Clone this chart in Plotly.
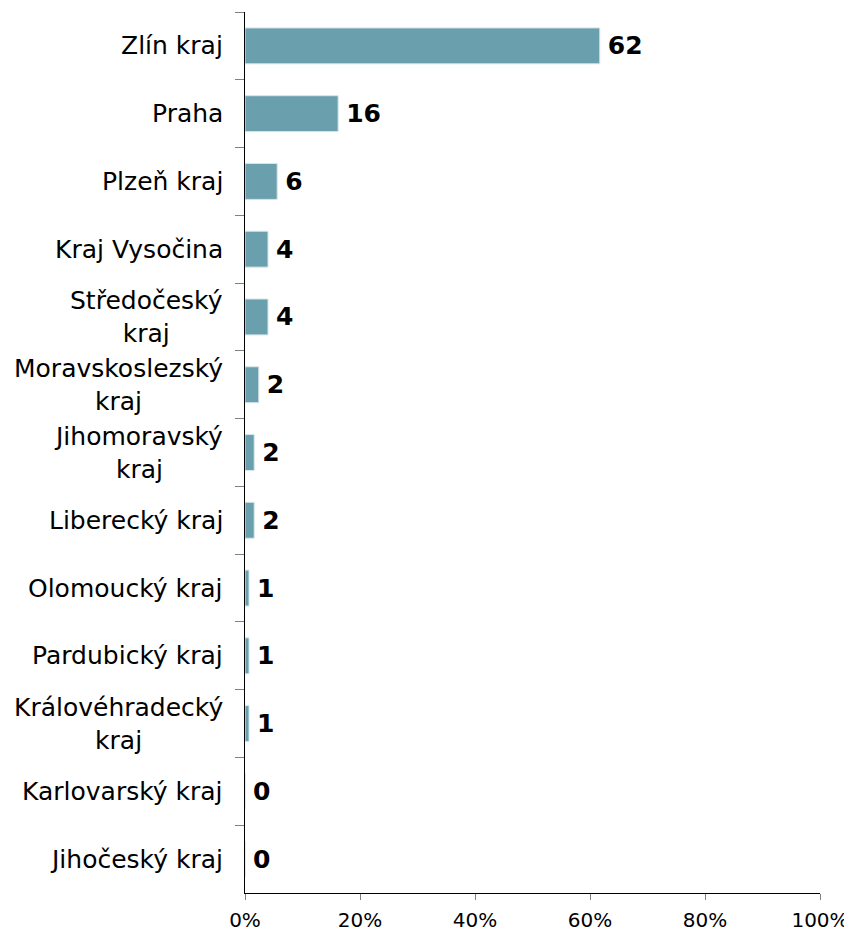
import plotly.graph_objects as go

# regions, top to bottom as shown
regions = ["Zlín kraj", "Praha", "Plzeň kraj", "Kraj Vysočina", "Středočeský<br>kraj",
           "Moravskoslezský<br>kraj", "Jihomoravský<br>kraj", "Liberecký kraj",
           "Olomoucký kraj", "Pardubický kraj", "Královéhradecký<br>kraj",
           "Karlovarský kraj", "Jihočeský kraj"]
# share of respondents in %
share = [61.7, 16.2, 5.6, 4.0, 4.0, 2.4, 1.6, 1.6, 0.7, 0.7, 0.7, 0, 0]
# labels printed next to the bars
labels = ["62", "16", "6", "4", "4", "2", "2", "2", "1", "1", "1", "0", "0"]

font = "Verdana, DejaVu Sans, sans-serif"

fig = go.Figure()
fig.add_trace(go.Bar(
    x=share, y=regions, orientation="h",
    marker_color="#6A9FAE", marker_line=dict(color="#d7e6ea", width=1),
    width=0.53,
    text=labels, texttemplate="\u2009%{text}", textposition="outside", cliponaxis=False,
    textfont=dict(family=font, size=25, color="black", weight="bold"),
))

# page body has an 8px margin, so margins are shifted accordingly
fig.update_layout(
    width=852, height=932, plot_bgcolor="white", paper_bgcolor="white",
    margin=dict(l=237, r=40, t=4, b=47), showlegend=False,
    font=dict(family=font, color="black"),
)
fig.update_xaxes(range=[0, 100], tickvals=[0, 20, 40, 60, 80, 100],
                 ticktext=["0%", "20%", "40%", "60%", "80%", "100%"],
                 showgrid=False, zeroline=False, showline=True, linecolor="black", linewidth=1,
                 ticks="outside", ticklen=6, tickcolor="#808080", ticklabelstandoff=3,
                 tickfont=dict(size=20, family=font))
fig.update_yaxes(autorange="reversed", showticklabels=False, showgrid=False,
                 showline=True, linecolor="black", linewidth=1,
                 ticks="outside", ticklen=9, tickcolor="#808080", tickson="boundaries")

# centered multi-line category labels
for r in regions:
    fig.add_annotation(x=0, xref="paper", y=r, yref="y", text=r, showarrow=False,
                       xanchor="right", xshift=-20, align="center",
                       font=dict(size=25, family=font, color="black"))

fig.write_html("out.html")
